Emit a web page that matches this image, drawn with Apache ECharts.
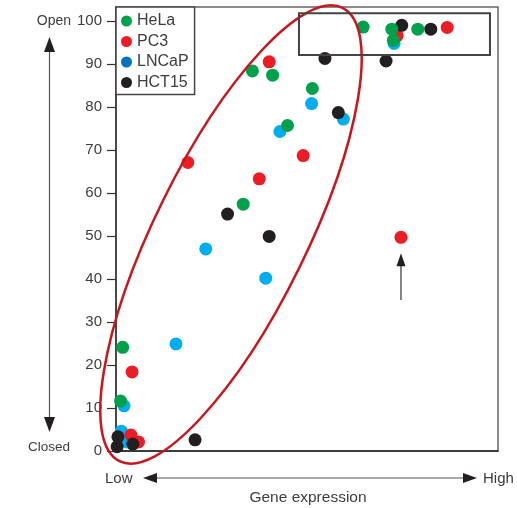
<!DOCTYPE html>
<html><head><meta charset="utf-8">
<script src="https://cdn.jsdelivr.net/npm/echarts@6/dist/echarts.min.js"></script>
<style>html,body{margin:0;padding:0;background:#fff}#c{width:517px;height:508px}</style>
</head><body><div id="c"></div>
<script>
// ---- data (gene expression x: 0..100 arbitrary, chromatin accessibility y: 0..100) ----
const cellLines = ['HeLa', 'PC3', 'LNCaP', 'HCT15'];
const helaX = [1.75, 1.2, 35.7, 41.0, 51.4, 44.9, 33.3, 64.7, 72.2, 72.6, 79.0];
const helaY = [24.1, 11.6, 88.4, 87.4, 84.3, 75.7, 57.4, 98.6, 98.1, 95.5, 98.1];
const pc3X = [18.8, 40.1, 37.5, 49.0, 4.2, 74.6, 86.7, 73.6, 3.9, 5.9];
const pc3Y = [67.1, 90.5, 63.3, 68.7, 18.4, 49.7, 98.5, 96.6, 3.7, 2.1];
const lncapX = [2.1, 15.7, 23.5, 39.2, 42.9, 51.2, 59.5, 72.8, 1.4, 2.9];
const lncapY = [10.5, 24.9, 47.0, 40.2, 74.3, 80.8, 77.2, 94.8, 4.6, 2.1];
const hct15X = [20.7, 29.2, 40.1, 54.7, 70.7, 74.8, 82.4, 58.2, 0.5, 4.4, 0.3];
const hct15Y = [2.6, 55.1, 49.9, 91.3, 90.7, 99.0, 98.1, 78.7, 3.3, 1.6, 1.0];
const yTicks = [0, 10, 20, 30, 40, 50, 60, 70, 80, 90, 100];
const yTopLabel = 'Open', yBottomLabel = 'Closed';
const xLowLabel = 'Low', xHighLabel = 'High';
const xTitle = 'Gene expression', yTitle = 'Chromatin accessibility';
// annotations in data coordinates
const clusterCenter = [30.1, 50.35];
const boxCorners = [[47.9, 101.8], [97.9, 92.1]];
const outlierArrow = [[74.6, 35.1], [74.6, 46.0]];

const FONT = '"Liberation Sans", Arial, Helvetica, sans-serif';
const TEXT = '#3d3d3d';
const colors = { HeLa: '#00a14b', PC3: '#ed1c24', LNCaP: '#00aeef', HCT15: '#231f20' };
const pairs = (xs, ys) => xs.map((x, i) => [x, ys[i]]);
const seriesData = {
  HeLa: pairs(helaX, helaY), PC3: pairs(pc3X, pc3Y),
  LNCaP: pairs(lncapX, lncapY), HCT15: pairs(hct15X, hct15Y)
};
const drawOrder = ['LNCaP', 'PC3', 'HCT15', 'HeLa'];

const chart = echarts.init(document.getElementById('c'), null, { renderer: 'canvas' });
chart.setOption({
  animation: false,
  backgroundColor: '#fff',
  grid: { left: 116, right: 19, top: 7, bottom: 57, show: true, borderColor: '#666', borderWidth: 1.5, backgroundColor: 'transparent' },
  xAxis: {
    type: 'value', min: 0, max: 100,
    axisLine: { show: true, lineStyle: { color: '#222', width: 1.5 } },
    axisTick: { show: false }, axisLabel: { show: false }, splitLine: { show: false }
  },
  yAxis: {
    type: 'value', min: 0, max: 103.26,
    axisLine: { show: true, lineStyle: { color: '#333', width: 1.5 } },
    axisTick: { show: true, length: 9, customValues: yTicks, lineStyle: { color: '#333', width: 1.2 } },
    axisLabel: { customValues: yTicks, margin: 14, fontSize: 15, color: TEXT, fontFamily: FONT },
    splitLine: { show: false }
  },
  legend: {
    orient: 'vertical', left: 116, top: 7, padding: [6, 6, 4, 5], itemGap: 4.5,
    itemWidth: 11, itemHeight: 11, itemTextGap: 6, icon: 'circle',
    borderColor: '#444', borderWidth: 1.5, backgroundColor: '#fff',
    textStyle: { fontSize: 16, color: TEXT, fontFamily: FONT },
    data: [
      { name: 'HeLa' }, { name: 'PC3' },
      { name: 'LNCaP', itemStyle: { color: '#0072bc' } }, { name: 'HCT15' }
    ]
  },
  series: drawOrder.map(n => ({
    name: n, type: 'scatter', symbol: 'circle', symbolSize: 13,
    itemStyle: { color: colors[n], opacity: 1 },
    data: seriesData[n]
  }))
});

const P = p => chart.convertToPixel({ gridIndex: 0 }, p);
const c = P(clusterCenter);
const b0 = P(boxCorners[0]), b1 = P(boxCorners[1]);
const a0 = P(outlierArrow[0]), a1 = P(outlierArrow[1]);
const txt = (text, x, y, size, align, extra) => Object.assign({
  type: 'text', x, y, z: 50,
  style: { text, fontSize: size, fontFamily: FONT, fill: TEXT, align, verticalAlign: 'middle' }
}, extra || {});
chart.setOption({
  graphic: [
    // cluster ellipse
    { type: 'ellipse', x: c[0], y: c[1], rotation: -26.2 * Math.PI / 180, z: 40,
      shape: { cx: 0, cy: 0, rx: 76, ry: 252.6 },
      style: { fill: 'none', stroke: '#c8161d', lineWidth: 2.5 } },
    // box around high cluster
    { type: 'rect', z: 40, shape: { x: b0[0], y: b0[1], width: b1[0] - b0[0], height: b1[1] - b0[1] },
      style: { fill: 'none', stroke: '#444', lineWidth: 2 } },
    // outlier arrow
    { type: 'line', z: 40, shape: { x1: a0[0], y1: a0[1], x2: a1[0], y2: a1[1] + 10 }, style: { stroke: '#333', lineWidth: 1.2 } },
    { type: 'polygon', z: 40, shape: { points: [[a1[0], a1[1]], [a1[0] - 4.5, a1[1] + 13], [a1[0] + 4.5, a1[1] + 13]] }, style: { fill: '#231f20' } },
    // vertical double arrow
    { type: 'line', z: 40, shape: { x1: 49.5, y1: 45, x2: 49.5, y2: 424 }, style: { stroke: '#555', lineWidth: 1.2 } },
    { type: 'polygon', z: 40, shape: { points: [[49.5, 37], [44, 52], [55, 52]] }, style: { fill: '#231f20' } },
    { type: 'polygon', z: 40, shape: { points: [[49.5, 432], [44, 417], [55, 417]] }, style: { fill: '#231f20' } },
    // horizontal double arrow
    { type: 'line', z: 40, shape: { x1: 150, y1: 478, x2: 470, y2: 478 }, style: { stroke: '#555', lineWidth: 1.2 } },
    { type: 'polygon', z: 40, shape: { points: [[143, 478], [157, 473], [157, 483]] }, style: { fill: '#231f20' } },
    { type: 'polygon', z: 40, shape: { points: [[477, 478], [463, 473], [463, 483]] }, style: { fill: '#231f20' } },
    // texts
    txt(yTopLabel, 71, 21, 14, 'right'),
    txt(yBottomLabel, 70, 447, 13.5, 'right'),
    txt(xLowLabel, 105, 479, 15, 'left'),
    txt(xHighLabel, 483, 479, 15, 'left'),
    txt(xTitle, 308, 498, 15.5, 'center'),
    txt(yTitle, 17.5, 238, 16, 'center', { rotation: Math.PI / 2, originX: 17.5, originY: 238 })
  ]
});
</script>
</body></html>
